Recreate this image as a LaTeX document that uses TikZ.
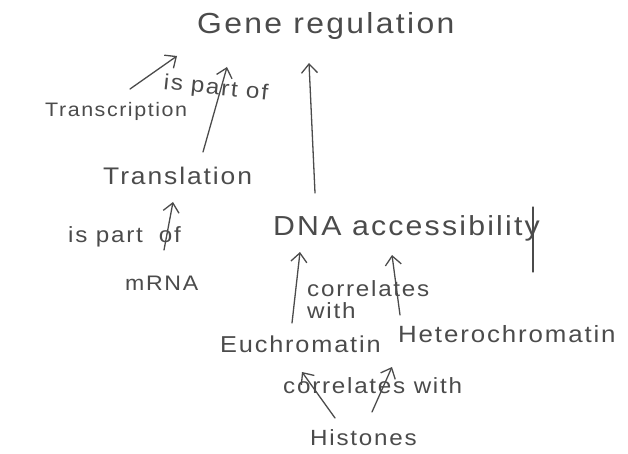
\documentclass[tikz,border=0pt]{standalone}
\usepackage{fontspec}
\setmainfont[FakeStretch=1.1,LetterSpace=8]{Liberation Sans}
\usetikzlibrary{arrows.meta}
\definecolor{ink}{RGB}{75,75,75}
\begin{document}
\begin{tikzpicture}[x=1pt,y=-1pt,
  txt/.style={inner sep=0pt,anchor=base west,text=ink},
  big/.style={txt,font=\fontsize{29}{32}\selectfont},
  mid/.style={txt,font=\fontsize{24}{27}\selectfont},
  lbl/.style={txt,font=\fontsize{22}{22}\selectfont},
  arr/.style={draw=ink,line width=1.3pt,line cap=round,line join=round,-{Straight Barb[length=9pt,width=16pt,line width=1.3pt]}},
  stroke/.style={draw=ink,line width=1.3pt,line cap=round}]
\useasboundingbox (0,0) rectangle (628,454);
% nodes
\node[big] (gr) at (197,34) {Gene regulation};
\node[txt,font=\fontsize{19.5}{22}\selectfont] (tsc) at (45,117) {Transcription};
\node[mid] (tsl) at (103,185) {Translation};
\node[txt,font=\fontsize{27.5}{29}\selectfont] (dna) at (273,235) {DNA accessibility};
\node[txt,font=\fontsize{21}{24}\selectfont] (mrna) at (125,290) {mRNA};
\node[txt,font=\fontsize{23}{26}\selectfont] (euc) at (220,352) {Euchromatin};
\node[txt,font=\fontsize{23.5}{26}\selectfont] (het) at (398,342) {Heterochromatin};
\node[txt,font=\fontsize{22}{25}\selectfont] (his) at (310,445) {Histones};
% labels
\node[lbl,rotate=-6] (l1) at (163,89) {is\hspace{8pt}part of};
\node[lbl] (l2) at (68,242) {is part\hspace{16pt}of};
\node[lbl,anchor=north west,align=left] (l3) at (307,280) {correlates\\with};
\node[lbl] (l4) at (283,393) {correlates with};
% connectors
\draw[arr] ([xshift=85pt,yshift=28pt]tsc.base west) -- ([xshift=-20pt,yshift=-22pt]gr.base west);
\draw[arr] ([xshift=100pt,yshift=33pt]tsl.base west) -- ([xshift=30pt,yshift=-33pt]gr.base west);
\draw[arr] ([xshift=42pt,yshift=42pt]dna.base west) -- ([xshift=112pt,yshift=-29pt]gr.base west);
\draw[arr] ([xshift=39pt,yshift=40pt]mrna.base west) -- ([xshift=70pt,yshift=-17pt]tsl.base west);
\draw[arr] ([xshift=72pt,yshift=29pt]euc.base west) -- ([xshift=27pt,yshift=-17pt]dna.base west);
\draw[arr] ([xshift=2pt,yshift=27pt]het.base west) -- ([xshift=119pt,yshift=-20pt]dna.base west);
\draw[arr] ([xshift=25pt,yshift=27pt]his.base west) -- ([xshift=82pt,yshift=-20pt]euc.base west);
\draw[arr] ([xshift=62pt,yshift=33pt]his.base west) -- ([xshift=-6pt,yshift=-25pt]het.base west);
% tail of the y
\coordinate (ytail) at (533,272);
\draw[stroke] ([xshift=260pt,yshift=28pt]dna.base west) -- (ytail);
\end{tikzpicture}
\end{document}
